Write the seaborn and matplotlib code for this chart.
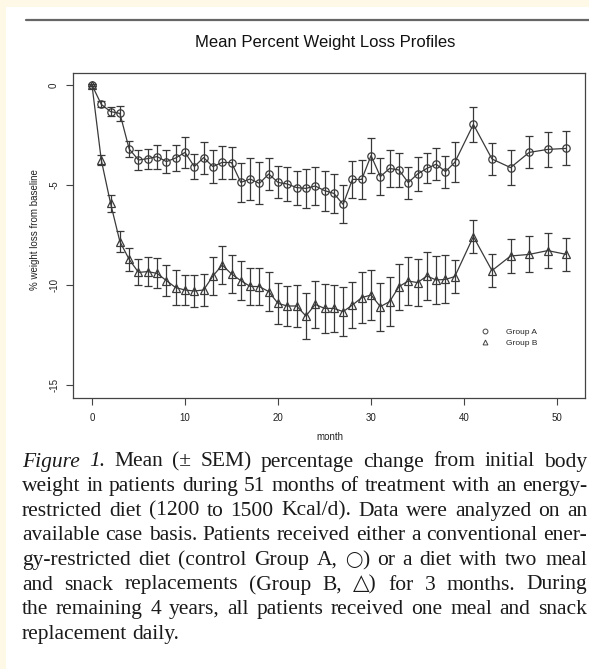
import numpy as np
import pandas as pd
import matplotlib
matplotlib.use("Agg")
import matplotlib.pyplot as plt
from matplotlib.lines import Line2D
from matplotlib.patches import Rectangle
import seaborn as sns

# ---------------- data ----------------
months = list(range(0, 40)) + [41, 43, 45, 47, 49, 51]

group_a = [0.0, -0.97, -1.33, -1.42, -3.20, -3.75, -3.68, -3.58, -3.83, -3.65,
           -3.37, -4.08, -3.63, -4.08, -3.87, -3.88, -4.87, -4.70, -4.92, -4.45,
           -4.87, -4.95, -5.13, -5.17, -5.05, -5.28, -5.42, -5.97, -4.72, -4.72,
           -3.53, -4.58, -4.17, -4.25, -4.88, -4.45, -4.17, -3.96, -4.33, -3.87,
           -1.97, -3.70, -4.13, -3.37, -3.22, -3.17]
group_a_sem = [0.05, 0.15, 0.22, 0.37, 0.42, 0.50, 0.50, 0.60, 0.58, 0.63,
               0.77, 0.63, 0.80, 0.82, 0.83, 0.80, 0.97, 1.05, 1.05, 0.80,
               0.80, 0.83, 0.85, 0.98, 0.96, 1.00, 0.96, 0.95, 0.93, 0.98,
               0.86, 0.92, 0.93, 0.86, 0.80, 0.85, 0.75, 0.80, 0.80, 1.00,
               0.86, 0.80, 0.86, 0.80, 0.86, 0.85]

group_b = [0.0, -3.75, -5.92, -7.83, -8.72, -9.37, -9.33, -9.42, -9.78, -10.13,
           -10.25, -10.30, -10.25, -9.55, -9.00, -9.45, -9.78, -10.07, -10.08, -10.33,
           -10.92, -11.05, -11.05, -11.55, -10.97, -11.17, -11.17, -11.33, -11.00, -10.63,
           -10.50, -11.08, -10.83, -10.08, -9.80, -9.88, -9.55, -9.75, -9.72, -9.58,
           -7.58, -9.28, -8.55, -8.47, -8.28, -8.47]
group_b_sem = [0.05, 0.25, 0.42, 0.52, 0.57, 0.65, 0.72, 0.75, 0.78, 0.88,
               0.75, 0.80, 0.82, 0.93, 0.94, 0.93, 0.96, 0.92, 0.94, 0.98,
               1.04, 1.02, 1.06, 1.13, 1.17, 1.22, 1.17, 1.22, 1.17, 1.27,
               1.25, 1.20, 1.22, 1.15, 1.20, 1.18, 1.20, 1.20, 1.20, 0.83,
               0.83, 0.83, 0.83, 0.90, 0.86, 0.83]

group_labels = ["Group A", "Group B"]
x_ticks = [0, 10, 20, 30, 40, 50]
y_ticks = [0, -5, -10, -15]

title = "Mean Percent Weight Loss Profiles"
x_label = "month"
y_label = "% weight loss from baseline"

caption_lines = [
    "*Figure *1. Mean (± SEM) percentage change from initial body",
    "weight in patients during 51 months of treatment with an energy-",
    "restricted diet (1200 to 1500 Kcal/d). Data were analyzed on an",
    "available case basis. Patients received either a conventional ener-",
    "gy-restricted diet (control Group A, \u25EF) or a diet with two meal",
    "and snack replacements (Group B, \u25B3) for 3 months. During",
    "the remaining 4 years, all patients received one meal and snack",
    "replacement daily.",
]

# ---------------- figure ----------------
sns.set_style("ticks")
plt.rcParams["font.family"] = ["Liberation Sans", "DejaVu Sans"]

W, H = 589, 669
fig = plt.figure(figsize=(W / 100, H / 100), dpi=100)
fig.patch.set_facecolor("white")

def fx(px):
    return px / W

def fy(py):
    return 1 - py / H

# page background strips (scan frame)
bg = "#fdf9e6"
fig.add_artist(Rectangle((0, fy(7)), 1, 7 / H, transform=fig.transFigure,
                         facecolor=bg, edgecolor="none", zorder=0))
fig.add_artist(Rectangle((0, 0), fx(6), 1, transform=fig.transFigure,
                         facecolor=bg, edgecolor="none", zorder=0))
# rule at top of figure
fig.add_artist(Line2D([fx(26), 1.0], [fy(19.5), fy(19.5)], transform=fig.transFigure,
                      color="#666666", lw=1.6))

ax = fig.add_axes([fx(73), fy(398), fx(585) - fx(73), fy(73) - fy(398)])

df = pd.DataFrame({
    "month": months * 2,
    "value": group_a + group_b,
    "group": [group_labels[0]] * len(months) + [group_labels[1]] * len(months),
})

sns.lineplot(data=df, x="month", y="value", hue="group", style="group",
             markers={"Group A": "o", "Group B": "^"}, dashes=False,
             palette={"Group A": "#3a3a3a", "Group B": "#3a3a3a"},
             linewidth=0.9, markersize=5.3, markeredgewidth=0.9,
             legend=False, ax=ax, zorder=3)
for ln in ax.lines:
    ln.set_markerfacecolor("none")
    ln.set_markeredgecolor("#3a3a3a")

ax.errorbar(months, group_a, yerr=group_a_sem, fmt="none", ecolor="#383838",
            elinewidth=0.9, capsize=2.6, capthick=0.9, zorder=2)
ax.errorbar(months, group_b, yerr=group_b_sem, fmt="none", ecolor="#383838",
            elinewidth=0.9, capsize=2.6, capthick=0.9, zorder=2)

ax.set_xlim(-2.04, 53.0)
ax.set_ylim(-15.65, 0.6)
ax.set_xticks(x_ticks)
ax.set_yticks(y_ticks)
ax.set_xticklabels([str(t) for t in x_ticks])
ax.set_yticklabels([str(t) for t in y_ticks], rotation=90, va="center")
ax.tick_params(axis="both", which="major", direction="out", length=5, width=0.8,
               color="#444444", labelsize=7, labelcolor="#222222",
               bottom=True, left=True, top=False, right=False)
ax.tick_params(axis="x", pad=6)
ax.tick_params(axis="y", pad=5)
for s in ax.spines.values():
    s.set_visible(True)
    s.set_color("#444444")
    s.set_linewidth(0.9)
ax.set_xlabel("")
ax.set_ylabel("")

fig.text(fx(330), fy(437), x_label, ha="center", va="center", fontsize=7, color="#222222")
fig.text(fx(35), fy(230), y_label, ha="center", va="center", rotation=90, fontsize=7,
         color="#222222")
fig.text(fx(325), fy(43), title, ha="center", va="center", fontsize=12, color="#111111")

# legend (markers only)
handles = [Line2D([], [], marker="o", ls="none", mfc="none", mec="#444444", ms=3.5, mew=0.7),
           Line2D([], [], marker="^", ls="none", mfc="none", mec="#444444", ms=3.5, mew=0.7)]
ax.legend(handles, group_labels, loc="upper left", bbox_to_anchor=(fx(481), fy(328)),
          bbox_transform=fig.transFigure, frameon=False, fontsize=6, handlelength=1.0,
          handletextpad=2.0, labelspacing=0.35, borderpad=0, borderaxespad=0)

# caption (justified serif text)
renderer = fig.canvas.get_renderer()
cap_fs = 15.5
cap_family = ["Liberation Serif", "DejaVu Sans"]
x0, x1 = 22, 587
y_first, dy = 462, 24.6
for i, line in enumerate(caption_lines):
    yc = fy(y_first + i * dy)
    words = line.split(" ")
    justify = i < len(caption_lines) - 1
    texts = []
    for w in words:
        style = "normal"
        if w.startswith("*"):
            w = w.strip("*")
            style = "italic"
        fs = cap_fs
        if "\u25EF" in w:
            fs = cap_fs  # same size as text
        t = fig.text(0, yc, w, ha="left", va="center", fontsize=fs, family=cap_family,
                     style=style, color="#1a1a1a")
        if "\u25EF" in w:
            # draw the circle smaller to match the scanned glyph
            t.set_text(w.replace("\u25EF", ""))
            t.set_visible(False)
            parts = w.split("\u25EF")
            sub = [fig.text(0, yc, parts[0], ha="left", va="center", fontsize=cap_fs,
                            family=cap_family, color="#1a1a1a"),
                   fig.text(0, yc, "\u25EF", ha="left", va="center", fontsize=cap_fs * 0.72,
                            family=cap_family, color="#1a1a1a"),
                   fig.text(0, yc, parts[1], ha="left", va="center", fontsize=cap_fs,
                            family=cap_family, color="#1a1a1a")]
            texts.append(sub)
        else:
            texts.append([t])
    widths = [sum(s.get_window_extent(renderer).width for s in grp) for grp in texts]
    if justify and len(texts) > 1:
        gap = (x1 - x0 - sum(widths)) / (len(texts) - 1)
    else:
        gap = cap_fs * 100 / 72 * 0.25
    x = x0
    for grp, w in zip(texts, widths):
        xx = x
        for s in grp:
            s.set_x(fx(xx))
            xx += s.get_window_extent(renderer).width
        x += w + gap

fig.savefig("out.png", dpi=100, facecolor=fig.get_facecolor())
